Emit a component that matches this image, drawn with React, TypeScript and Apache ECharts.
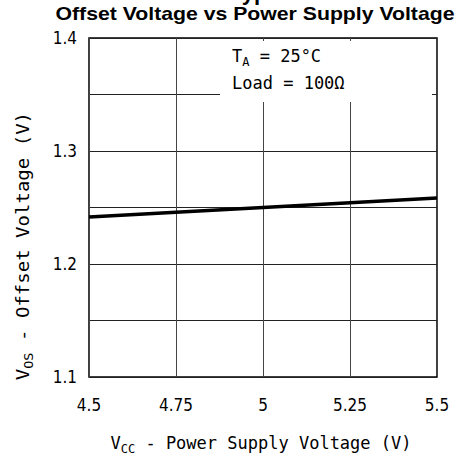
import React, { useEffect, useRef } from "react";
import * as echarts from "echarts";

const supplyVoltage = [4.5, 4.75, 5, 5.25, 5.5];
const offsetVoltage = [1.2415, 1.2457, 1.25, 1.2543, 1.2585];
const xTicks = [4.5, 4.75, 5, 5.25, 5.5];
const yTicks = [1.1, 1.2, 1.3, 1.4];

const TICK_FONT = "'DejaVu Sans Condensed', 'DejaVu Sans'";
const MONO = "'DejaVu Sans Mono', monospace";

export default function App() {
  const ref = useRef<HTMLDivElement>(null);
  useEffect(() => {
    if (!ref.current) return;
    const chart = echarts.init(ref.current, undefined, { renderer: "svg" });
    const near = (arr: number[], v: number) => arr.some((t) => Math.abs(t - v) < 1e-6);
    const subRich = {
      n: { fontFamily: MONO, fontSize: 17, fill: "#000" },
      s: { fontFamily: MONO, fontSize: 12, fill: "#000", padding: [12, 0, 0, 0] },
    };
    chart.setOption({
      animation: false,
      backgroundColor: "#fff",
      grid: {
        left: 89,
        right: 22,
        top: 38,
        bottom: 88,
        show: true,
        borderColor: "#000",
        borderWidth: 1.5,
        backgroundColor: "transparent",
      },
      xAxis: {
        type: "value",
        min: 4.5,
        max: 5.5,
        interval: 0.25,
        axisLine: { show: false },
        axisTick: { show: false },
        splitLine: { show: true, lineStyle: { color: "#444", width: 1 } },
        axisLabel: {
          color: "#000",
          fontFamily: TICK_FONT,
          fontSize: 17,
          margin: 19,
          formatter: (v: number) => (near(xTicks, v) ? String(v) : ""),
        },
      },
      yAxis: {
        type: "value",
        min: 1.1,
        max: 1.4,
        interval: 0.05,
        axisLine: { show: false },
        axisTick: { show: false },
        splitLine: { show: true, lineStyle: { color: "#222", width: 1 } },
        axisLabel: {
          color: "#000",
          fontFamily: TICK_FONT,
          fontSize: 17,
          margin: 12,
          formatter: (v: number) => (near(yTicks, v) ? v.toFixed(1) : ""),
        },
      },
      series: [
        {
          type: "line",
          data: supplyVoltage.map((x, i) => [x, offsetVoltage[i]]),
          symbol: "none",
          smooth: false,
          lineStyle: { color: "#000", width: 3.5 },
          z: 5,
        },
      ],
      graphic: [
        {
          type: "rect",
          z: 10,
          shape: { x: 220, y: 41, width: 212, height: 61 },
          style: { fill: "#fff" },
        },
        {
          type: "text",
          z: 11,
          x: 232,
          y: 56,
          style: {
            text: "{n|T}{s|A}{n| = 25°C}",
            verticalAlign: "middle",
            rich: subRich,
          },
        },
        {
          type: "text",
          z: 11,
          x: 232,
          y: 83,
          style: {
            text: "Load = 100Ω",
            fontFamily: MONO,
            fontSize: 17,
            fill: "#000",
            verticalAlign: "middle",
          },
        },
        {
          type: "text",
          z: 11,
          x: 230,
          y: 3,
          style: {
            text: "Typical Characteristics",
            fontFamily: "Liberation Sans",
            fontWeight: "bold",
            fontSize: 22,
            fill: "#000",
            align: "left",
            verticalAlign: "bottom",
          },
        },
        {
          type: "text",
          z: 11,
          x: 255,
          y: 23,
          scaleX: 1.18,
          style: {
            text: "Offset Voltage vs Power Supply Voltage",
            fontFamily: "Liberation Sans",
            fontWeight: "bold",
            fontSize: 18,
            fill: "#000",
            align: "center",
            verticalAlign: "bottom",
          },
        },
        {
          type: "text",
          z: 11,
          x: 261,
          y: 443,
          style: {
            text: "{n|V}{s|CC}{n| - Power Supply Voltage (V)}",
            align: "center",
            verticalAlign: "middle",
            rich: subRich,
          },
        },
        {
          type: "text",
          z: 11,
          x: 23,
          y: 246,
          rotation: Math.PI / 2,
          scaleX: 1.12,
          style: {
            text: "{n|V}{s|OS}{n| - Offset Voltage (V)}",
            align: "center",
            verticalAlign: "middle",
            rich: subRich,
          },
        },
      ],
    });
    return () => chart.dispose();
  }, []);
  return <div ref={ref} style={{ width: 459, height: 465, position: "absolute", left: 0, top: 0 }} />;
}
